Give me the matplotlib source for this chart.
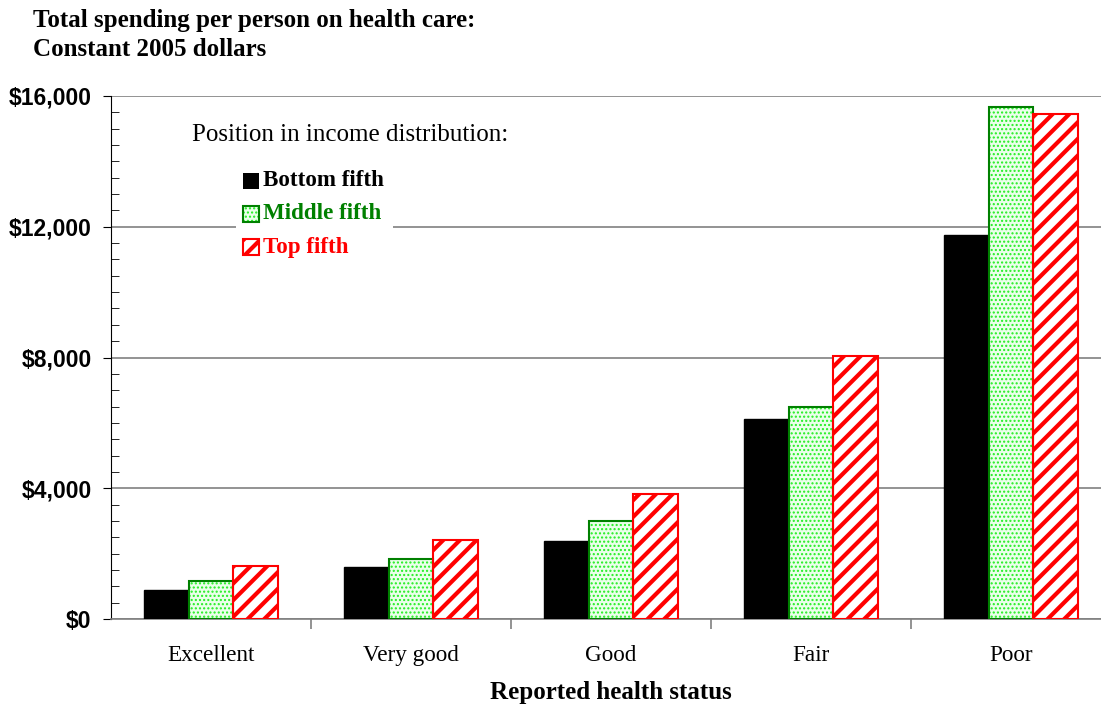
import matplotlib
matplotlib.use('Agg')
import matplotlib.pyplot as plt
import numpy as np
from matplotlib.patches import Rectangle
from matplotlib.ticker import MultipleLocator, FuncFormatter

categories = ['Excellent', 'Very good', 'Good', 'Fair', 'Poor']
bottom_fifth = [900, 1590, 2380, 6110, 11740]
middle_fifth = [1160, 1830, 3000, 6500, 15660]
top_fifth = [1620, 2410, 3820, 8060, 15440]

series_names = ['Bottom fifth', 'Middle fifth', 'Top fifth']

SERIF = 'Liberation Serif'
SANS = 'Liberation Sans'
GRAY = '#808080'


def green_patch_style():
    plt.rcParams['hatch.linewidth'] = 1.0
    return dict(facecolor='#eaffea', edgecolor='#22ee22', hatch='....', linewidth=0)


def red_patch_style():
    plt.rcParams['hatch.linewidth'] = 3.0
    return dict(facecolor='white', edgecolor='#ff0000', hatch='//', linewidth=0)


def draw_bars(ax, x, vals, kind, width):
    if kind == 'black':
        ax.bar(x, vals, width, color='black', edgecolor='black', linewidth=1, zorder=3)
    elif kind == 'green':
        ax.bar(x, vals, width, zorder=3, **green_patch_style())
        ax.bar(x, vals, width, fill=False, edgecolor='#008000', linewidth=1.5, zorder=4)
    else:
        ax.bar(x, vals, width, zorder=3, **red_patch_style())
        ax.bar(x, vals, width, fill=False, edgecolor='#ff0000', linewidth=1.5, zorder=4)


def main():
    fig = plt.figure(figsize=(11.01, 7.09), dpi=100)
    ax = fig.add_axes([111 / 1101, 1 - 619 / 709, 1000 / 1101, 523 / 709])

    x = np.arange(len(categories))
    w = 0.2225
    draw_bars(ax, x - w, bottom_fifth, 'black', w)
    draw_bars(ax, x, middle_fifth, 'green', w)
    draw_bars(ax, x + w, top_fifth, 'red', w)

    ax.set_xlim(-0.5, len(categories) - 0.5)
    ax.set_ylim(0, 16000)

    # axes styling
    for s in ['top', 'right']:
        ax.spines[s].set_visible(False)
    ax.spines['left'].set_color('black')
    ax.spines['bottom'].set_color(GRAY)
    ax.spines['bottom'].set_linewidth(1.2)
    ax.yaxis.grid(True, color=GRAY, linewidth=1.2, zorder=0)
    ax.set_axisbelow(True)

    ax.yaxis.set_major_locator(MultipleLocator(4000))
    ax.yaxis.set_minor_locator(MultipleLocator(500))
    ax.yaxis.set_major_formatter(FuncFormatter(lambda v, p: '${:,.0f}'.format(v)))
    ax.tick_params(axis='y', which='major', direction='out', length=6, pad=8,
                   labelsize=16.5)
    ax.tick_params(axis='y', which='minor', direction='in', length=6)
    for lab in ax.get_yticklabels():
        lab.set_fontfamily(SANS)
        lab.set_fontweight('bold')

    ax.set_xticks(x)
    ax.set_xticklabels(categories, fontfamily=SERIF, fontsize=16.7)
    ax.set_xticks(np.arange(len(categories) - 1) + 0.5, minor=True)
    ax.tick_params(axis='x', which='major', length=0, pad=19)
    ax.tick_params(axis='x', which='minor', length=7, color=GRAY, width=1.2)

    # legend (drawn by hand to match the original layout)
    def dx(px):
        return (px - 211) / 200.0

    def dy(py):
        return (619 - py) / 523.0 * 16000

    ax.add_patch(Rectangle((dx(236), dy(262)), dx(393) - dx(236), dy(165) - dy(262),
                           facecolor='white', edgecolor='none', zorder=2))
    ax.text(dx(192), dy(135), 'Position in income distribution:', fontfamily=SERIF,
            fontsize=18, va='center', ha='left', zorder=5)
    colors = ['black', '#008000', '#ff0000']
    rows = [181, 214, 247]
    kinds = ['black', 'green', 'red']
    for name, c, py, kind in zip(series_names, colors, rows, kinds):
        hx, hw = dx(243), dx(259) - dx(243)
        hy, hh = dy(py + 8), dy(py - 8) - dy(py + 8)
        if kind == 'black':
            ax.add_patch(Rectangle((hx, hy), hw, hh, facecolor='black', zorder=5))
        else:
            style = green_patch_style() if kind == 'green' else red_patch_style()
            ax.add_patch(Rectangle((hx, hy), hw, hh, zorder=5, **style))
            ax.add_patch(Rectangle((hx, hy), hw, hh, fill=False, edgecolor=c,
                                   linewidth=1.5, zorder=6))
        ax.text(dx(263), dy(py), name, color=c, fontfamily=SERIF, fontweight='bold',
                fontsize=16.6, va='center', ha='left', zorder=6)

    # titles
    fig.text(33 / 1101, 1 - 20 / 709, 'Total spending per person on health care:',
             fontfamily=SERIF, fontweight='bold', fontsize=18, va='center', ha='left')
    fig.text(33 / 1101, 1 - 50 / 709, 'Constant 2005 dollars',
             fontfamily=SERIF, fontweight='bold', fontsize=18, va='center', ha='left')
    fig.text(611 / 1101, 1 - 693 / 709, 'Reported health status',
             fontfamily=SERIF, fontweight='bold', fontsize=18, va='center', ha='center')

    fig.savefig('out.png', dpi=100)


if __name__ == '__main__':
    main()
